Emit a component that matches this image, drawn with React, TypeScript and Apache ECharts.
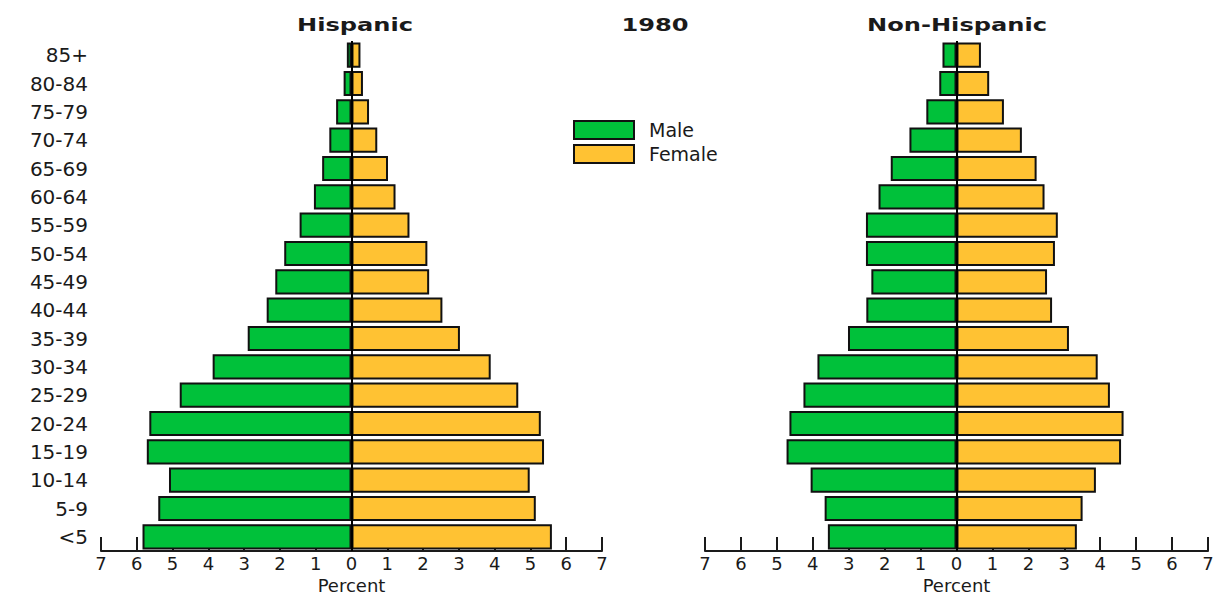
import React, { useEffect, useRef } from "react";
import * as echarts from "echarts";

const ageGroups = ["85+", "80-84", "75-79", "70-74", "65-69", "60-64", "55-59", "50-54", "45-49", "40-44", "35-39", "30-34", "25-29", "20-24", "15-19", "10-14", "5-9", "<5"];
const hispanicMale = [0.13, 0.22, 0.43, 0.62, 0.82, 1.05, 1.45, 1.88, 2.13, 2.37, 2.9, 3.88, 4.8, 5.65, 5.72, 5.1, 5.4, 5.84];
const hispanicFemale = [0.25, 0.32, 0.49, 0.72, 1.02, 1.23, 1.62, 2.12, 2.17, 2.54, 3.03, 3.89, 4.66, 5.29, 5.38, 4.98, 5.15, 5.6];
const nonHispanicMale = [0.39, 0.48, 0.84, 1.31, 1.83, 2.17, 2.52, 2.52, 2.37, 2.51, 3.02, 3.87, 4.26, 4.65, 4.73, 4.06, 3.67, 3.58];
const nonHispanicFemale = [0.68, 0.91, 1.32, 1.82, 2.23, 2.45, 2.82, 2.74, 2.52, 2.66, 3.13, 3.93, 4.27, 4.65, 4.58, 3.88, 3.51, 3.35];
const panelTitles = ["Hispanic", "1980", "Non-Hispanic"];
const legendNames = ["Male", "Female"];

const GREEN = "#00c13a";
const GOLD = "#ffc233";
const INK = "#1a1a1a";
const FONT = "DejaVu Sans, Verdana, sans-serif";

export default function App() {
  const ref = useRef<HTMLDivElement>(null);
  useEffect(() => {
    if (!ref.current) return;
    const chart = echarts.init(ref.current, null, { renderer: "svg" });

    const xAxisBase = (gridIndex: number) => ({
      type: "value",
      gridIndex,
      min: -7,
      max: 7,
      interval: 1,
      splitLine: { show: false },
      axisLine: { show: true, onZero: false, lineStyle: { color: INK, width: 2 } },
      axisTick: { show: true, inside: true, length: 14, lineStyle: { color: INK, width: 2 } },
      axisLabel: {
        formatter: (v: number) => String(Math.abs(v)),
        fontSize: 18,
        color: INK,
        margin: 3,
        fontFamily: FONT,
      },
      name: "Percent",
      nameLocation: "middle",
      nameGap: 22,
      nameTextStyle: { fontSize: 18, color: INK, fontFamily: FONT },
    });

    const yAxisBase = (gridIndex: number, showLabels: boolean) => ({
      type: "category",
      gridIndex,
      data: ageGroups,
      inverse: true,
      axisLine: { show: false },
      axisTick: { show: false },
      axisLabel: {
        show: showLabels,
        fontSize: 20,
        color: INK,
        margin: 13,
        fontFamily: FONT,
      },
    });

    const barStyle = (color: string) => ({
      color,
      borderColor: "#111",
      borderWidth: 2,
    });

    const centerLine = {
      silent: true,
      symbol: ["none", "none"],
      label: { show: false },
      lineStyle: { color: "#000", width: 2, type: "solid" },
      data: [{ xAxis: 0 }],
    };

    const makeSeries = (idx: number, male: number[], female: number[]) => [
      {
        name: "Male",
        type: "bar",
        xAxisIndex: idx,
        yAxisIndex: idx,
        data: male.map((v) => -v),
        barGap: "-100%",
        barCategoryGap: "11%",
        itemStyle: barStyle(GREEN),
        markLine: centerLine,
      },
      {
        name: "Female",
        type: "bar",
        xAxisIndex: idx,
        yAxisIndex: idx,
        data: female,
        barGap: "-100%",
        barCategoryGap: "11%",
        itemStyle: barStyle(GOLD),
      },
    ];

    const titleX = [355, 655, 957];

    chart.setOption({
      animation: false,
      backgroundColor: "#ffffff",
      grid: [
        { left: 101, width: 501, top: 41, height: 510 },
        { left: 705, width: 503, top: 41, height: 510 },
      ],
      xAxis: [xAxisBase(0), xAxisBase(1)],
      yAxis: [yAxisBase(0, true), yAxisBase(1, false)],
      legend: {
        data: legendNames,
        orient: "vertical",
        left: 573,
        top: 120,
        padding: 0,
        itemWidth: 60,
        itemHeight: 18,
        itemGap: 4,
        icon: "rect",
        selectedMode: false,
        textStyle: { fontSize: 19, color: INK, fontFamily: FONT, padding: [0, 0, 0, 10] },
      },
      graphic: panelTitles.map((t, i) => ({
        type: "text",
        x: titleX[i],
        y: 25,
        scaleX: 1.42,
        style: {
          text: t,
          fontSize: 17,
          fontWeight: "bold",
          fontFamily: FONT,
          fill: INK,
          textAlign: "center",
          textVerticalAlign: "middle",
        },
      })),
      series: [
        ...makeSeries(0, hispanicMale, hispanicFemale),
        ...makeSeries(1, nonHispanicMale, nonHispanicFemale),
      ],
    });

    return () => chart.dispose();
  }, []);

  return (
    <div
      ref={ref}
      style={{ position: "fixed", left: 0, top: 0, width: 1226, height: 605, background: "#fff" }}
    />
  );
}
